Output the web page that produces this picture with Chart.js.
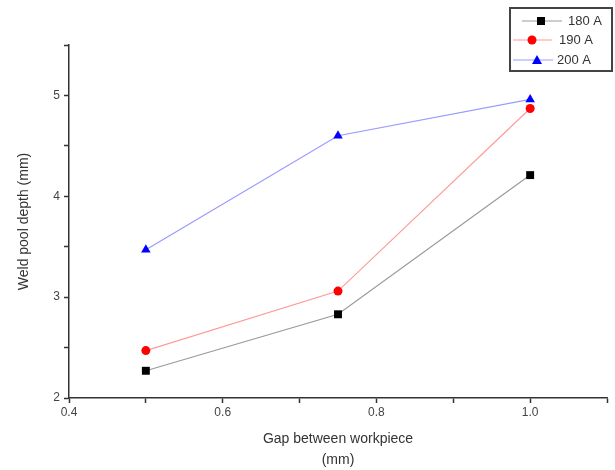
<!DOCTYPE html>
<html>
<head>
<meta charset="utf-8">
<script src="https://cdn.jsdelivr.net/npm/chart.js@4"></script>
<style>
  body { margin: 0; background: #fff; }
  #wrap { width: 615px; height: 470px; }
</style>
</head>
<body>
<div id="wrap"><canvas id="weld-chart"></canvas></div>
<script>
// data
const gaps = [0.5, 0.75, 1.0];
const depth180 = [2.27, 2.83, 4.21];
const depth190 = [2.47, 3.06, 4.87];
const depth200 = [3.47, 4.60, 4.96];
const seriesLabels = ["180 A", "190 A", "200 A"];

function pts(ys) {
    return gaps.map(function (x, i) { return { x: x, y: ys[i] }; });
}

// legend box like the original (line + marker + label)
const boxLegend = {
    id: 'boxLegend',
    afterDraw: function (chart) {
        const ctx = chart.ctx;
        ctx.save();
        ctx.strokeStyle = '#444';
        ctx.lineWidth = 2;
        ctx.strokeRect(510, 8, 102, 63);
        const rows = [
            { y: 21, x1: 522, x2: 562, m: 541, t: 568 },
            { y: 40, x1: 513, x2: 552, m: 532, t: 559 },
            { y: 60, x1: 513, x2: 553, m: 537, t: 557 }
        ];
        chart.data.datasets.forEach(function (ds, i) {
            const r = rows[i];
            ctx.strokeStyle = ds.borderColor;
            ctx.lineWidth = 1;
            ctx.beginPath();
            ctx.moveTo(r.x1, r.y);
            ctx.lineTo(r.x2, r.y);
            ctx.stroke();
            ctx.fillStyle = ds.pointBackgroundColor;
            ctx.beginPath();
            if (ds.pointStyle === 'rect') {
                ctx.fillRect(r.m - 4, r.y - 4, 8, 8);
            } else if (ds.pointStyle === 'circle') {
                ctx.arc(r.m, r.y, 4.5, 0, Math.PI * 2);
                ctx.fill();
            } else {
                ctx.moveTo(r.m, r.y - 5);
                ctx.lineTo(r.m + 5, r.y + 4);
                ctx.lineTo(r.m - 5, r.y + 4);
                ctx.closePath();
                ctx.fill();
            }
            ctx.fillStyle = '#333';
            ctx.font = '13px "Liberation Sans", Arial, sans-serif';
            ctx.textBaseline = 'middle';
            ctx.fillText(ds.label, r.t, r.y);
        });
        ctx.restore();
    }
};

new Chart(document.getElementById("weld-chart"), {
    type: 'line',
    data: {
        datasets: [
            {
                label: seriesLabels[0],
                data: pts(depth180),
                borderColor: '#9a9a9a',
                borderWidth: 1.2,
                pointStyle: 'rect',
                pointRadius: 5.6,
                pointBackgroundColor: '#000',
                pointBorderColor: '#000',
                pointBorderWidth: 0
            },
            {
                label: seriesLabels[1],
                data: pts(depth190),
                borderColor: '#ff9a9a',
                borderWidth: 1.2,
                pointStyle: 'circle',
                pointRadius: 4.5,
                pointBackgroundColor: '#ff0000',
                pointBorderColor: '#ff0000',
                pointBorderWidth: 0
            },
            {
                label: seriesLabels[2],
                data: pts(depth200),
                borderColor: '#9a9aff',
                borderWidth: 1.2,
                pointStyle: 'triangle',
                pointRadius: 5.5,
                pointBackgroundColor: '#0000ff',
                pointBorderColor: '#0000ff',
                pointBorderWidth: 0
            }
        ]
    },
    options: {
        responsive: true,
        maintainAspectRatio: false,
        animation: false,
        layout: { padding: { top: 45, right: 8, left: 0, bottom: 0 } },
        plugins: {
            legend: { display: false },
            tooltip: { enabled: false }
        },
        scales: {
            x: {
                type: 'linear',
                min: 0.4,
                max: 1.1,
                afterFit: function (s) { s.height = 72; },
                grid: { drawOnChartArea: false, drawTicks: true, tickLength: 5, color: '#333', tickWidth: 1.5 },
                border: { display: true, color: '#333', width: 1.5 },
                ticks: {
                    stepSize: 0.1,
                    autoSkip: false,
                    maxRotation: 0,
                    padding: 2,
                    color: '#444',
                    font: { family: '"Liberation Sans", Arial, sans-serif', size: 12 },
                    callback: function (v) {
                        return Math.round(v * 10) % 2 === 0 ? v.toFixed(1) : '';
                    }
                },
                title: {
                    display: true,
                    text: ['Gap between workpiece', '(mm)'],
                    color: '#333',
                    padding: { top: 4, bottom: 0 },
                    font: { family: '"Liberation Sans", Arial, sans-serif', size: 14, lineHeight: 1.45 }
                }
            },
            y: {
                min: 2,
                max: 5.5,
                afterFit: function (s) { s.width = 69; },
                grid: { drawOnChartArea: false, drawTicks: true, tickLength: 5, color: '#333', tickWidth: 1.5 },
                border: { display: true, color: '#333', width: 1.5 },
                ticks: {
                    stepSize: 0.5,
                    autoSkip: false,
                    padding: 4,
                    color: '#444',
                    font: { family: '"Liberation Sans", Arial, sans-serif', size: 12 },
                    callback: function (v) {
                        return Number.isInteger(v) ? String(v) : '';
                    }
                },
                title: {
                    display: true,
                    text: 'Weld pool depth (mm)',
                    color: '#333',
                    padding: { top: 16, bottom: 0 },
                    font: { family: '"Liberation Sans", Arial, sans-serif', size: 14 }
                }
            }
        }
    },
    plugins: [boxLegend]
});
</script>
</body>
</html>
